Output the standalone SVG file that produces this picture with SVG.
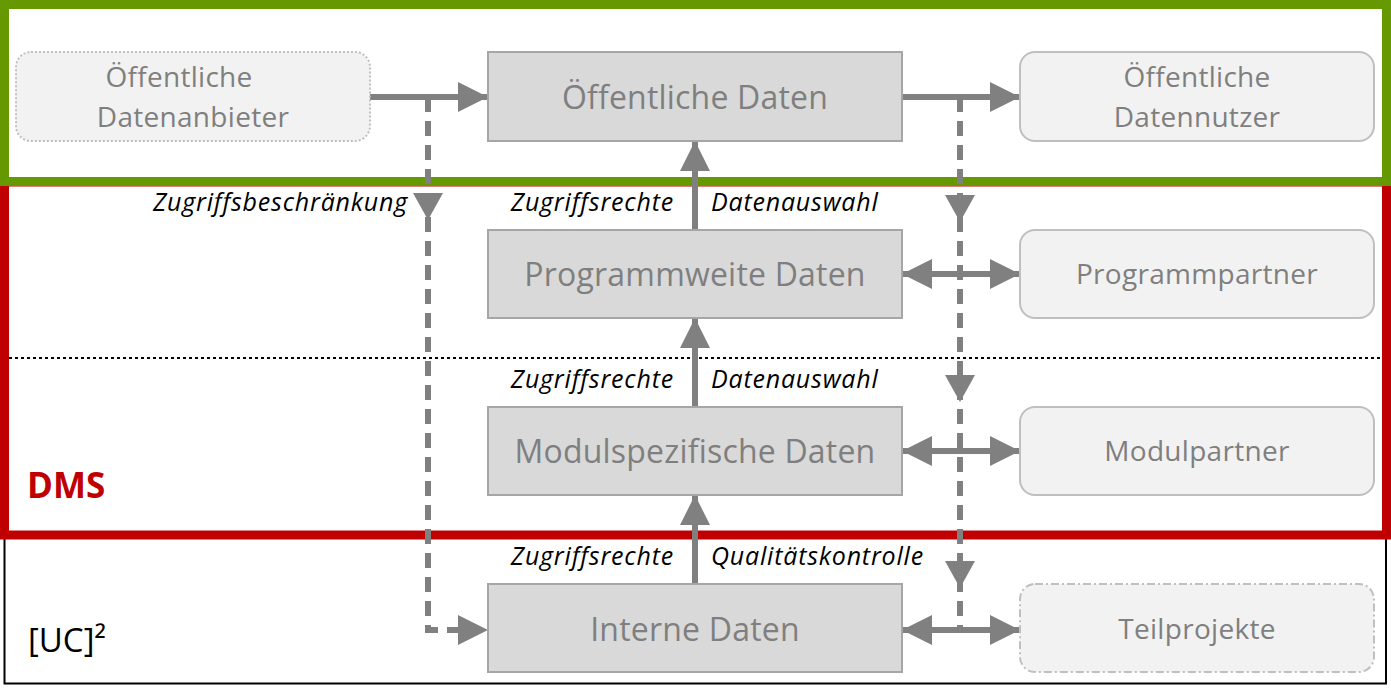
<svg xmlns="http://www.w3.org/2000/svg" width="1391" height="689" viewBox="0 0 1391 689">
<style>
.frame{fill:none}
.main rect{fill:#d9d9d9;stroke:#a6a6a6;stroke-width:2}
.ext rect{fill:#f2f2f2;stroke:#bfbfbf;stroke-width:2}
.nt{font-family:"Open Sans","Noto Sans",sans-serif;fill:#7f7f7f;text-anchor:middle}
.big{font-size:32px;letter-spacing:0.2px}
.sm{font-size:28px;letter-spacing:0.3px}
.lbl{font-family:"Open Sans","Noto Sans",sans-serif;font-style:italic;font-size:25px;letter-spacing:0.8px;fill:#000}
.ln{fill:none;stroke:#808080;stroke-width:6}
.dash{stroke-dasharray:15 9}
.head{fill:#808080}
</style>
<defs>
<marker id="ah" markerUnits="userSpaceOnUse" markerWidth="30" markerHeight="30" refX="30" refY="15" orient="auto-start-reverse" viewBox="0 0 30 30">
<path d="M0,0 L30,15 L0,30 Z" fill="#808080"/>
</marker>
</defs>
<rect width="1391" height="689" fill="#fff"/>
<g id="frames">
<rect class="frame" x="4.5" y="535" width="1381.5" height="148.5" stroke="#000" stroke-width="2"/>
<rect class="frame" x="4.5" y="182" width="1382" height="353" stroke="#c00000" stroke-width="9"/>
<rect class="frame" x="4.5" y="4.5" width="1382" height="177" stroke="#669900" stroke-width="9"/>
<line x1="9" y1="358" x2="1382" y2="358" stroke="#000" stroke-width="2" stroke-dasharray="3 3"/>
<text x="27" y="498" font-family="'Open Sans','Noto Sans',sans-serif" font-weight="bold" font-size="35" fill="#c00000">DMS</text>
<text x="28" y="652" font-family="'Open Sans','Noto Sans',sans-serif" font-size="33" fill="#000">[UC]²</text>
</g>
<g id="connectors">
<path class="ln" d="M370,97 H488" marker-end="url(#ah)"/>
<path class="ln" d="M902,97 H1020" marker-end="url(#ah)"/>
<path class="ln dash" d="M428,97 V630 H458"/>
<path class="head" d="M458,615 L488,630 L458,645 Z"/>
<path class="head" d="M413,193 L443,193 L428,220 Z"/>
<path class="ln dash" d="M960,97 V630"/>
<path class="head" d="M945,195 L975,195 L960,222 Z"/>
<path class="head" d="M945,375 L975,375 L960,402 Z"/>
<path class="head" d="M945,561 L975,561 L960,588 Z"/>
<path class="ln" d="M902,274 H1020" marker-start="url(#ah)" marker-end="url(#ah)"/>
<path class="ln" d="M902,451 H1020" marker-start="url(#ah)" marker-end="url(#ah)"/>
<path class="ln" d="M902,630 H1020" marker-start="url(#ah)" marker-end="url(#ah)"/>
<path class="ln" d="M695,230 V141" marker-end="url(#ah)"/>
<path class="ln" d="M695,407 V318" marker-end="url(#ah)"/>
<path class="ln" d="M695,584 V495" marker-end="url(#ah)"/>
<text class="lbl" x="408" y="211" text-anchor="end">Zugriffsbeschränkung</text>
<text class="lbl" x="674" y="211" text-anchor="end">Zugriffsrechte</text>
<text class="lbl" x="711" y="211">Datenauswahl</text>
<text class="lbl" x="674" y="388" text-anchor="end">Zugriffsrechte</text>
<text class="lbl" x="711" y="388">Datenauswahl</text>
<text class="lbl" x="674" y="565" text-anchor="end">Zugriffsrechte</text>
<text class="lbl" x="711" y="565">Qualitätskontrolle</text>
</g>
<g id="n-anbieter" class="ext">
<rect x="16" y="52" width="354" height="89" rx="15" stroke="#a6a6a6" stroke-dasharray="2 2"/>
<text class="nt sm" x="179" y="87">Öffentliche</text>
<text class="nt sm" x="193" y="127">Datenanbieter</text>
</g>
<g id="n-oeff" class="main">
<rect x="488" y="52" width="414" height="89"/>
<text class="nt big" x="695" y="109">Öffentliche Daten</text>
</g>
<g id="n-nutzer" class="ext">
<rect x="1020" y="52" width="354" height="89" rx="15"/>
<text class="nt sm" x="1197" y="87">Öffentliche</text>
<text class="nt sm" x="1197" y="127">Datennutzer</text>
</g>
<g id="n-prog" class="main">
<rect x="488" y="230" width="414" height="88"/>
<text class="nt big" x="695" y="286">Programmweite Daten</text>
</g>
<g id="n-progpartner" class="ext">
<rect x="1020" y="230" width="354" height="88" rx="15"/>
<text class="nt sm" x="1197" y="284">Programmpartner</text>
</g>
<g id="n-modul" class="main">
<rect x="488" y="407" width="414" height="88"/>
<text class="nt big" x="695" y="463">Modulspezifische Daten</text>
</g>
<g id="n-modulpartner" class="ext">
<rect x="1020" y="407" width="354" height="88" rx="15"/>
<text class="nt sm" x="1197" y="461">Modulpartner</text>
</g>
<g id="n-intern" class="main">
<rect x="488" y="584" width="414" height="88"/>
<text class="nt big" x="695" y="641">Interne Daten</text>
</g>
<g id="n-teil" class="ext">
<rect x="1020" y="584" width="354" height="88" rx="15" stroke-dasharray="8 3 2 3"/>
<text class="nt sm" x="1197" y="639">Teilprojekte</text>
</g>
</svg>
